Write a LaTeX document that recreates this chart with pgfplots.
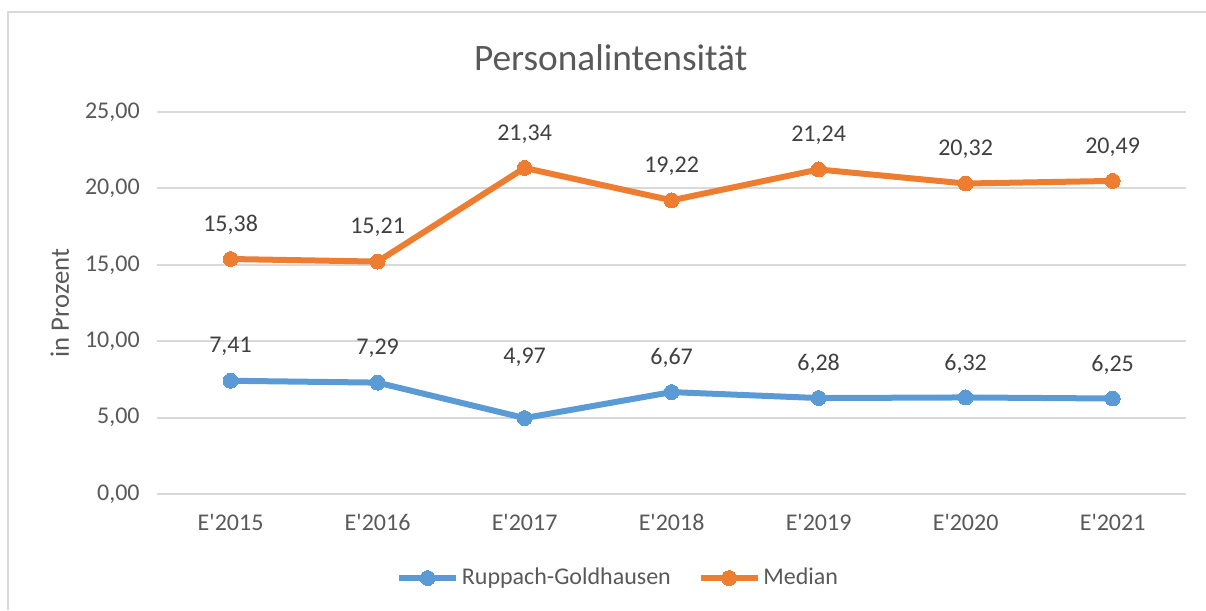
\documentclass[border=0pt]{standalone}
\usepackage{pgfplots}
\pgfplotsset{compat=1.18}
\usepackage{fontspec}
\setmainfont{Carlito}
\definecolor{cblue}{HTML}{5B9BD5}
\definecolor{corange}{HTML}{ED7D31}
\definecolor{cgrid}{HTML}{D9D9D9}
\definecolor{ctext}{HTML}{595959}
\definecolor{clabel}{HTML}{404040}
\begin{document}
\begin{tikzpicture}
\path[use as bounding box] (0,0) rectangle (452.25pt,228.75pt);
\draw[cgrid, line width=0.75pt] (3pt,0pt) -- (3pt,224.25pt) -- (452.25pt,224.25pt);
\node[text=ctext, font=\fontsize{14}{17}\selectfont] at (229pt,207pt) {Personalintensität};
\begin{axis}[
  at={(58.9pt,43.5pt)}, anchor=south west,
  scale only axis, width=385.9pt, height=143.25pt,
  xmin=-0.5, xmax=6.5, ymin=0, ymax=25,
  axis line style={draw=none},
  xtick={0,...,6},
  xticklabels={E\textquotesingle 2015,E\textquotesingle 2016,E\textquotesingle 2017,E\textquotesingle 2018,E\textquotesingle 2019,E\textquotesingle 2020,E\textquotesingle 2021},
  ytick={0,5,10,15,20,25},
  yticklabels={{0,00},{5,00},{10,00},{15,00},{20,00},{25,00}},
  major tick length=0pt,
  ymajorgrids, grid style={cgrid, line width=0.75pt},
  tick label style={text=ctext, font=\fontsize{9}{11}\selectfont},
  xticklabel style={yshift=-4pt},
  yticklabel style={xshift=-3pt},
  ylabel={in Prozent},
  ylabel style={at={(axis description cs:-0.0945,0.5)}, anchor=center, rotate=0, text=ctext, font=\fontsize{10}{12}\selectfont},
  point meta=explicit symbolic,
  nodes near coords style={text=clabel, font=\fontsize{9}{11}\selectfont, anchor=center, yshift=12.75pt},
  legend style={at={(0.447,-0.22)}, anchor=center, draw=none, fill=none, legend columns=2,
    font=\fontsize{9}{11}\selectfont, text=ctext, nodes={inner xsep=0pt},
    /tikz/every even column/.append style={column sep=10pt},
    /tikz/every odd column/.append style={column sep=1pt}, inner sep=0pt},
  legend cell align=left,
  legend image code/.code={
    \draw[#1, mark repeat=2, mark phase=2] plot coordinates {(0pt,0pt) (10.7pt,0pt) (21.4pt,0pt)};
  },
  clip=false,
]
\addplot[cblue, line width=2.25pt, line join=round, mark=*, mark size=2.8pt,
  mark options={solid, fill=cblue, line width=0pt},
  nodes near coords] coordinates {
  (0,7.41) [7,41]
  (1,7.29) [7,29]
  (2,4.97) []
  (3,6.67) [6,67]
  (4,6.28) [6,28]
  (5,6.32) [6,32]
  (6,6.25) [6,25]
};
\addlegendentry{Ruppach-Goldhausen}
\addplot[corange, line width=2.25pt, line join=round, mark=*, mark size=2.8pt,
  mark options={solid, fill=corange, line width=0pt},
  nodes near coords] coordinates {
  (0,15.38) [15,38]
  (1,15.21) [15,21]
  (2,21.34) [21,34]
  (3,19.22) [19,22]
  (4,21.24) [21,24]
  (5,20.32) [20,32]
  (6,20.49) [20,49]
};
\addlegendentry{Median}
\addplot[draw=none, mark=none, nodes near coords,
  nodes near coords style={yshift=10.15pt}, forget plot] coordinates {(2,4.97) [4,97]};
\end{axis}
\end{tikzpicture}
\end{document}
